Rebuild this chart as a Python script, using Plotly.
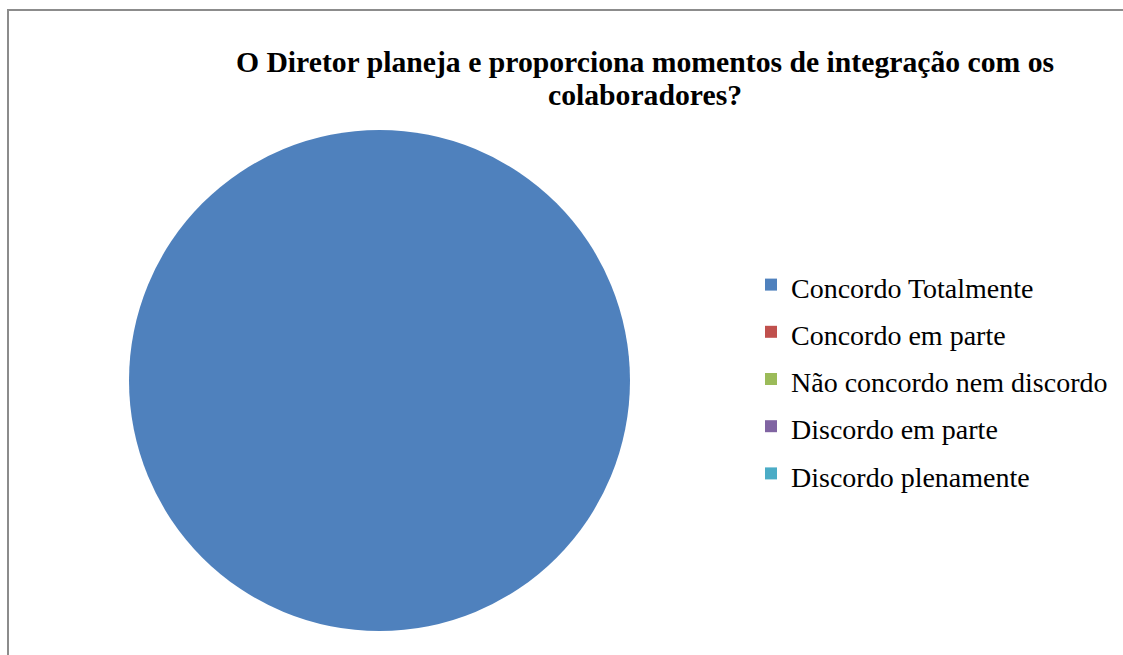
import plotly.graph_objects as go

labels = ["Concordo Totalmente", "Concordo em parte", "Não concordo nem discordo",
          "Discordo em parte", "Discordo plenamente"]
values = [100, 0, 0, 0, 0]
colors = ["#4F81BD", "#C0504D", "#9BBB59", "#8064A2", "#4BACC6"]
title_lines = ["O Diretor planeja e proporciona momentos de integração com os",
               "colaboradores?"]

W, H = 1123, 655
dom = dict(x=[129 / W, 630 / W], y=[24 / H, 525 / H])

legend_labels = ["<span style='font-size:28px'>%s</span>" % l for l in labels]
title_html = "<br>".join("<span style='font-size:29.7px'><b>%s</b></span>" % t for t in title_lines)

fig = go.Figure()
fig.add_trace(go.Pie(
    labels=legend_labels, values=values, sort=False, direction="clockwise",
    marker=dict(colors=colors), textinfo="none", hovertext=labels,
    hoverinfo="text+percent", domain=dom,
))

fig.update_layout(
    width=W, height=H,
    margin=dict(l=0, r=0, t=0, b=0),
    paper_bgcolor="white", plot_bgcolor="white",
    title=dict(text=title_html, x=645 / W, xanchor="center",
               y=1 - 72 / H, yanchor="top",
               font=dict(family="Liberation Serif, Times New Roman, serif", size=25.4, color="black")),
    legend=dict(x=751 / W, xanchor="left", y=1 - 256 / H, yanchor="top",
                font=dict(family="Liberation Serif, Times New Roman, serif", size=34, color="black"),
                bgcolor="rgba(0,0,0,0)"),
    shapes=[dict(type="rect", xref="paper", yref="paper",
                 x0=8 / W, x1=1.01, y0=-0.01, y1=1 - 10 / H,
                 line=dict(color="#8c8c8c", width=2))],
)

fig.write_html("out.html", config={"displayModeBar": False},
               post_script="document.body.style.margin='0';")
